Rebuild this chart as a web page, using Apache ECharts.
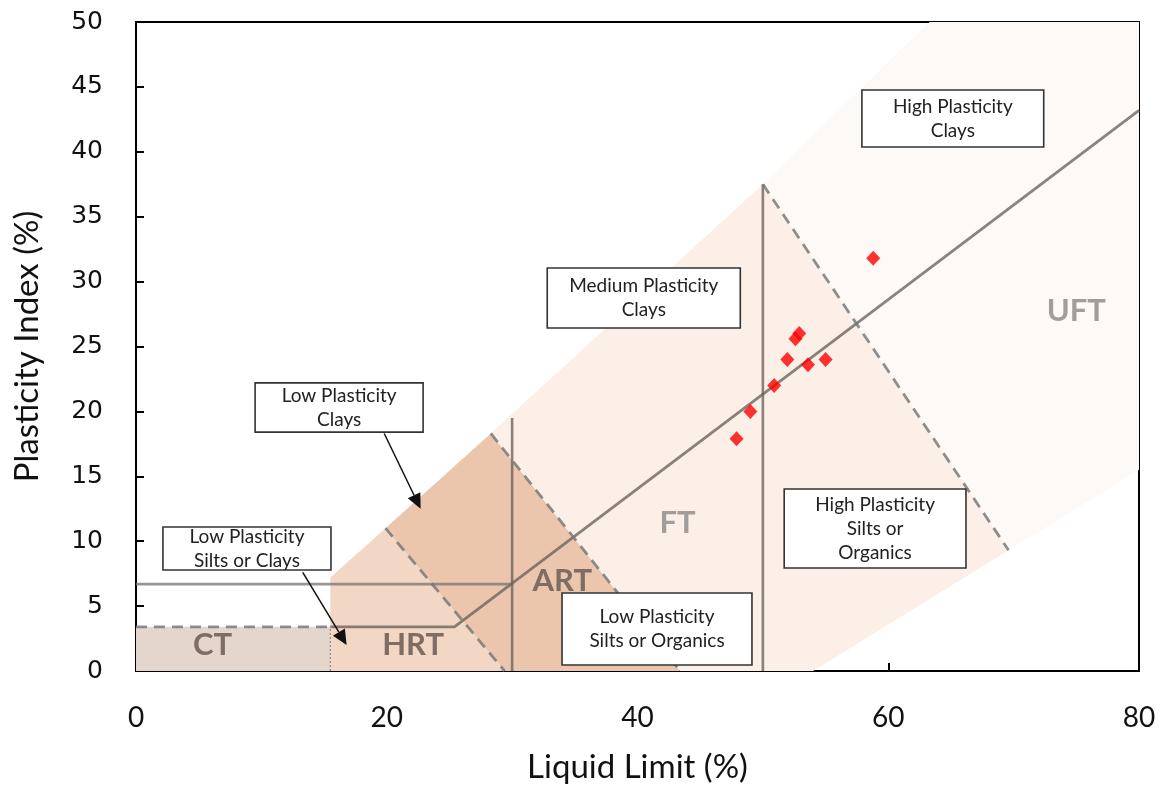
<!DOCTYPE html>
<html><head><meta charset="utf-8">
<script src="https://cdn.jsdelivr.net/npm/echarts@6/dist/echarts.min.js"></script>
<style>html,body{margin:0;padding:0;background:#fff}#c{width:1163px;height:788px}</style>
</head><body><div id="c"></div>
<script>
// ---- sample data (Liquid Limit %, Plasticity Index %) ----
const liquidLimit     = [58.8, 52.9, 52.6, 51.95, 53.6, 55.0, 50.9, 49.0, 47.9];
const plasticityIndex = [31.8, 26.0, 25.6, 24.0, 23.6, 24.0, 22.0, 20.0, 17.9];

// ---- zone polygons [LL, PI] ----
const zoneCT  = [[0,0],[15.5,0],[15.5,3.4],[0,3.4]];
const zoneHRT = [[15.5,0],[15.5,7.2],[19.9,11.0],[29.4,0]];
const zoneART = [[19.9,11.0],[28.3,18.3],[43.4,0],[29.4,0]];
const zoneFT  = [[28.3,18.3],[50,37.5],[69.6,9.3],[54,0],[43.4,0]];
const zoneUFT = [[50,37.5],[63.3,50],[80,50],[80,15.5],[69.6,9.3]];

// ---- boundary lines [LL, PI] ----
const aLine      = [[15.5,3.4],[25.4,3.4],[80,43.2]];
const ctTop      = [[0,3.4],[15.5,3.4]];
const ctRight    = [[15.5,0],[15.5,3.4]];
const line67     = [[0,6.7],[30,6.7]];
const vLine30    = [[30,0],[30,19.5]];
const vLine50    = [[50,0],[50,37.5]];
const dashHRT    = [[19.9,11.0],[29.4,0]];
const dashART    = [[28.3,18.3],[43.4,0]];
const dashFT     = [[50,37.5],[69.6,9.3]];

// ---- zone labels ----
const zoneNames  = ['CT','HRT','ART','FT','UFT'];
const zoneLabelPos = [[6.1,2.0],[22.1,2.0],[34.0,6.9],[43.2,11.4],[75.0,27.7]];

// ---- annotation boxes [LL1, PI1, LL2, PI2] ----
const boxTexts = ['High Plasticity\nClays','Medium Plasticity\nClays','Low Plasticity\nClays',
                  'Low Plasticity\nSilts or Clays','Low Plasticity\nSilts or Organics','High Plasticity\nSilts or\nOrganics'];
const boxCorners = [[57.9,44.76,72.4,40.37],[32.8,31.05,48.2,26.43],[9.5,22.2,22.9,18.4],
                    [2.15,11.09,15.55,7.78],[33.98,6.01,49.13,0.46],[51.7,14.02,66.2,7.94]];

// ---- arrows [tail, tip] ----
const arrows = [[[19.8,18.3],[22.7,12.5]],[[13.3,7.6],[16.8,2.0]]];

const xTicks = [0,20,40,60,80];
const yTicks = [0,5,10,15,20,25,30,35,40,45,50];

const zones = [zoneCT, zoneHRT, zoneART, zoneFT, zoneUFT];
const zoneColors = ['#e4d6cc','#f3d7c5','#ebc6ac','#fbefe7','#fdf9f6'];
const zoneTextColors = ['#7f6c62','#7f6c62','#7f6c62','#a29d9a','#a29d9a'];

const lineSolid = 'rgba(105,98,92,0.78)';
const lineDash  = 'rgba(115,115,115,0.8)';

function lineSeries(data, color, width, type, z){
  return {type:'line', data:data, symbol:'none', silent:true, z:z||3,
    lineStyle:{color:color, width:width, type:type||'solid'}, animation:false};
}

const chart = echarts.init(document.getElementById('c'));
const option = {
  animation:false,
  backgroundColor:'#fff',
  grid:{left:136, right:24, top:22, bottom:117, containLabel:false, outerBoundsMode:'none',
    show:true, borderColor:'#000', borderWidth:2, backgroundColor:'transparent'},
  xAxis:{type:'value', min:0, max:80, interval:20,
    name:'Liquid Limit (%)', nameLocation:'middle', nameGap:80,
    nameTextStyle:{fontFamily:'Lato', fontSize:33, color:'#111'},
    axisLine:{show:true, lineStyle:{color:'#000', width:2}},
    axisTick:{show:true, inside:true, length:8, lineStyle:{color:'#000', width:2}},
    axisLabel:{fontFamily:'Lato', fontSize:28, color:'#111', margin:33, formatter:v=>xTicks.includes(v)?String(v):''},
    splitLine:{show:false}},
  yAxis:{type:'value', min:0, max:50, interval:5,
    name:'Plasticity Index (%)', nameLocation:'middle', nameGap:92,
    nameTextStyle:{fontFamily:'Lato', fontSize:33, color:'#111'},
    axisLine:{show:true, lineStyle:{color:'#000', width:2}},
    axisTick:{show:true, inside:true, length:8, lineStyle:{color:'#000', width:2}},
    axisLabel:{fontFamily:'DejaVu Sans', fontSize:25, color:'#111', margin:33, formatter:v=>yTicks.includes(v)?String(v):''},
    splitLine:{show:false}},
  series:[
    {type:'custom', silent:true, z:1, data:zones.map((_,i)=>i),
      renderItem:function(params, api){
        const i = params.dataIndex;
        return {type:'polygon', shape:{points:zones[i].map(p=>api.coord(p))}, style:{fill:zoneColors[i]}};
      }},
    lineSeries(aLine, lineSolid, 2.8),
    lineSeries(ctTop, lineDash, 2.8, [11,7]),
    lineSeries(ctRight, 'rgba(120,110,105,0.8)', 1.2, [2,2]),
    lineSeries(line67, 'rgba(120,115,112,0.75)', 2.8),
    lineSeries(vLine30, lineSolid, 2.6),
    lineSeries(vLine50, lineSolid, 2.6),
    lineSeries(dashHRT, lineDash, 2.8, [11,7]),
    lineSeries(dashART, lineDash, 2.8, [11,7]),
    lineSeries(dashFT, lineDash, 2.8, [11,7]),
    {type:'custom', silent:true, z:4, data:zoneNames.map((_,i)=>i),
      renderItem:function(params, api){
        const i = params.dataIndex;
        const c = api.coord(zoneLabelPos[i]);
        return {type:'text', style:{text:zoneNames[i], x:c[0], y:c[1], align:'center', verticalAlign:'middle',
          font:'bold 31px Lato', fill:zoneTextColors[i]}};
      }},
    {type:'custom', silent:true, z:5, data:boxTexts.map((_,i)=>i),
      renderItem:function(params, api){
        const i = params.dataIndex, b = boxCorners[i];
        const p1 = api.coord([b[0], b[1]]), p2 = api.coord([b[2], b[3]]);
        return {type:'group', children:[
          {type:'rect', shape:{x:p1[0], y:p1[1], width:p2[0]-p1[0], height:p2[1]-p1[1]},
            style:{fill:'#fff', stroke:'#333', lineWidth:1.6}},
          {type:'text', style:{text:boxTexts[i], x:(p1[0]+p2[0])/2, y:(p1[1]+p2[1])/2, align:'center',
            verticalAlign:'middle', font:'19px Lato', lineHeight:24, fill:'#222'}}
        ]};
      }},
    {type:'custom', silent:true, z:6, data:arrows.map((_,i)=>i),
      renderItem:function(params, api){
        const a = arrows[params.dataIndex];
        const t = api.coord(a[0]), h = api.coord(a[1]);
        const dx = h[0]-t[0], dy = h[1]-t[1], L = Math.sqrt(dx*dx+dy*dy);
        const ux = dx/L, uy = dy/L, hl = 15, hw = 7;
        const bx = h[0]-ux*hl, by = h[1]-uy*hl;
        return {type:'group', children:[
          {type:'line', shape:{x1:t[0], y1:t[1], x2:bx, y2:by}, style:{stroke:'#111', lineWidth:1.5}},
          {type:'polygon', shape:{points:[[h[0],h[1]],[bx-uy*hw, by+ux*hw],[bx+uy*hw, by-ux*hw]]}, style:{fill:'#111'}}
        ]};
      }},
    {type:'scatter', z:7, symbol:'diamond', symbolSize:[14,15], itemStyle:{color:'#ff0000'},
      data:liquidLimit.map((x,i)=>[x, plasticityIndex[i]])}
  ]
};
chart.setOption(option);
</script>
</body></html>
